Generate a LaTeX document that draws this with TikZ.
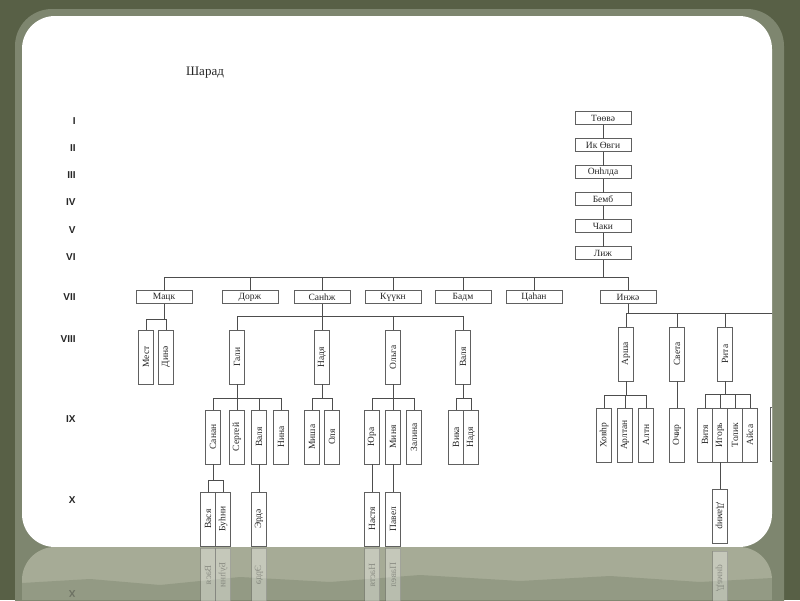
\documentclass[tikz,border=0pt]{standalone}
\usepackage{fontspec}
\setmainfont{Liberation Serif}
\newfontfamily\numfont{Liberation Sans}
\usetikzlibrary{positioning,calc}

\definecolor{slidebg}{HTML}{586046}
\definecolor{halo}{HTML}{7E866F}
\definecolor{refl}{HTML}{A6AB96}
\definecolor{refldark}{HTML}{939A84}
\definecolor{ink}{HTML}{262626}
\definecolor{boxline}{HTML}{606060}

\begin{document}
\begin{tikzpicture}[x=1pt,y=-1pt,every node/.style={outer sep=0pt},
		hbox/.style={draw=boxline,fill=white,line width=0.7pt,minimum width=56pt,
		minimum height=13pt,inner sep=0pt,text=ink,font=\fontsize{9.5}{10}\selectfont},
		vbox/.style={hbox,rotate=90,minimum width=54pt,minimum height=15pt},
		dbox/.style={hbox,rotate=-90,minimum width=54pt,minimum height=15pt},
		gen/.style={anchor=east,text=ink,font=\numfont\bfseries\fontsize{10}{11}\selectfont},
		link/.style={draw=boxline!80!black,line width=0.7pt},
		]
		\useasboundingbox (0,0) rectangle (800,600);
		% slide
		\fill[slidebg] (0,0) rectangle (800,600);
		\fill[halo,rounded corners=37pt] (15,9) rectangle (784,640);
		\fill[white,rounded corners=33pt] (22,16) rectangle (772,547);
		\begin{scope}
			\clip[rounded corners=33pt] (22,547) rectangle (772,660);
			\fill[refl] (22,547) rectangle (772,600);
			\fill[refldark] (22,600) -- (22,583) -- (90,579) -- (160,585) -- (240,577)
				-- (330,582) -- (420,575) -- (520,581) -- (610,576) -- (700,582)
				-- (772,578) -- (772,600) -- cycle;
		\end{scope}

		\node[text=ink,font=\fontsize{13}{15}\selectfont] (title) at (205,73) {Шарад};
		\foreach \r/\yy in {I/121,II/148,III/175,IV/202,V/230,VI/257,VII/297,VIII/339,IX/419,X/500}
			\node[gen] (gen\r) at (79,\yy) {\r};

		\begin{scope}
			\clip[rounded corners=33pt] (22,16) rectangle (772,547);
			% I - VI
			\node[hbox] (toova) at (603,118) {Төөвә};
			\node[hbox,below=14pt of toova] (ikovgi) {Ик Өвги};
			\node[hbox,below=14pt of ikovgi] (onhlda) {Онһлда};
			\node[hbox,below=14pt of onhlda] (bemb) {Бемб};
			\node[hbox,below=14pt of bemb] (chaki) {Чаки};
			\node[hbox,below=14pt of chaki] (lizh) {Лиж};
			\draw[link] (toova) -- (ikovgi);
			\draw[link] (ikovgi) -- (onhlda);
			\draw[link] (onhlda) -- (bemb);
			\draw[link] (bemb) -- (chaki);
			\draw[link] (chaki) -- (lizh);

			% VII
			\node[hbox] (macq) at (164,297) {Мацк};
			\node[hbox] (dorzh) at (250,297) {Дорж};
			\node[hbox] (sanzh) at (322,297) {Санһж};
			\node[hbox] (kuukn) at (393,297) {Күүкн};
			\node[hbox] (badm) at (463,297) {Бадм};
			\node[hbox] (tsagan) at (534,297) {Цаһан};
			\node[hbox] (inzha) at (628,297) {Инжә};
			\coordinate (jLizh) at (lizh |- 0,277);
			\draw[link] (lizh) -- (jLizh);
			\foreach \c in {macq,dorzh,sanzh,kuukn,badm,tsagan,inzha}
				\draw[link] (jLizh) -| (\c);

			% VIII
			\node[vbox] (mest) at (146,357) {Мест};
			\node[vbox] (dina) at (166,357) {Динә};
			\node[vbox] (gali) at (237,357) {Гали};
			\node[vbox] (nadya) at (322,357) {Надя};
			\node[vbox] (olga) at (393,357) {Ольга};
			\node[vbox] (valya) at (463,357) {Валя};
			\node[vbox] (arsha) at (626,354) {Арша};
			\node[vbox] (sveta) at (677,354) {Света};
			\node[vbox] (rita) at (725,354) {Рита};
			\coordinate (jMacq) at (macq |- 0,319);
			\draw[link] (macq) -- (jMacq);
			\foreach \c in {mest,dina} \draw[link] (jMacq) -| (\c);
			\coordinate (jSanzh) at (sanzh |- 0,316);
			\draw[link] (sanzh) -- (jSanzh);
			\foreach \c in {gali,nadya,olga,valya} \draw[link] (jSanzh) -| (\c);
			\coordinate (jInzha) at (inzha |- 0,313);
			\coordinate (offR) at (800,313);
			\draw[link] (inzha) -- (jInzha) -- (offR);
			\foreach \c in {arsha,sveta,rita} \draw[link] (jInzha) -| (\c);

			% IX
			\node[vbox] (sanan) at (213,437) {Санан};
			\node[vbox] (sergei) at (237,437) {Сергей};
			\node[vbox] (valya2) at (259,437) {Валя};
			\node[vbox] (nina) at (281,437) {Нина};
			\node[vbox] (misha) at (312,437) {Миша};
			\node[vbox] (olya) at (332,437) {Оля};
			\node[vbox] (yura) at (372,437) {Юра};
			\node[vbox] (minya) at (393,437) {Миня};
			\node[vbox] (zalina) at (414,437) {Залина};
			\node[vbox] (vika) at (456,437) {Вика};
			\node[vbox] (nadya2) at (471,437) {Надя};
			\node[vbox] (hovr) at (604,435) {Ховһр};
			\node[vbox] (arltan) at (625,435) {Арлтан};
			\node[vbox] (altn) at (646,435) {Алтн};
			\node[vbox] (ochir) at (677,435) {Очир};
			\node[vbox] (vitya) at (705,435) {Витя};
			\node[vbox] (igor) at (720,435) {Игорь};
			\node[vbox] (tolik) at (735,435) {Толик};
			\node[vbox] (aisa) at (750,435) {Айса};
			\node[vbox] (cutoff) at (778,434) {};
			\coordinate (jGali) at (gali |- 0,398);
			\draw[link] (gali) -- (jGali);
			\foreach \c in {sanan,sergei,valya2,nina} \draw[link] (jGali) -| (\c);
			\coordinate (jNadya) at (nadya |- 0,398);
			\draw[link] (nadya) -- (jNadya);
			\foreach \c in {misha,olya} \draw[link] (jNadya) -| (\c);
			\coordinate (jOlga) at (olga |- 0,398);
			\draw[link] (olga) -- (jOlga);
			\foreach \c in {yura,minya,zalina} \draw[link] (jOlga) -| (\c);
			\coordinate (jValya) at (valya |- 0,398);
			\draw[link] (valya) -- (jValya);
			\foreach \c in {vika,nadya2} \draw[link] (jValya) -| (\c);
			\coordinate (jArsha) at (arsha |- 0,395);
			\draw[link] (arsha) -- (jArsha);
			\foreach \c in {hovr,arltan,altn} \draw[link] (jArsha) -| (\c);
			\draw[link] (sveta) -- (ochir);
			\coordinate (jRita) at (rita |- 0,394);
			\draw[link] (rita) -- (jRita);
			\foreach \c in {vitya,igor,tolik,aisa} \draw[link] (jRita) -| (\c);

			% X
			\node[vbox] (vasya) at (208,519) {Вася};
			\node[vbox] (buhni) at (223,519) {Буһни};
			\node[vbox] (erde) at (259,519) {Эрдә};
			\node[vbox] (nastya) at (372,519) {Настя};
			\node[vbox] (pavel) at (393,519) {Павел};
			\node[dbox] (damir) at (720,516) {Дамир};
			\coordinate (jSanan) at (sanan |- 0,480);
			\draw[link] (sanan) -- (jSanan);
			\foreach \c in {vasya,buhni} \draw[link] (jSanan) -| (\c);
			\draw[link] (valya2) -- (erde);
			\draw[link] (yura) -- (nastya);
			\draw[link] (minya) -- (pavel);
			\draw[link] (igor) -- (damir);
		\end{scope}

		% reflection
		\begin{scope}[opacity=0.35]
			\clip (22,547) rectangle (772,600);
			\node[gen,yscale=-1] (genXr) at (79,594) {X};
			\node[yscale=-1,vbox] (vasyaR) at (208,575) {Вася};
			\node[yscale=-1,vbox] (buhniR) at (223,575) {Буһни};
			\node[yscale=-1,vbox] (erdeR) at (259,575) {Эрдә};
			\node[yscale=-1,vbox] (nastyaR) at (372,575) {Настя};
			\node[yscale=-1,vbox] (pavelR) at (393,575) {Павел};
			\node[yscale=-1,dbox] (damirR) at (720,578) {Дамир};
		\end{scope}
\end{tikzpicture}
\end{document}
